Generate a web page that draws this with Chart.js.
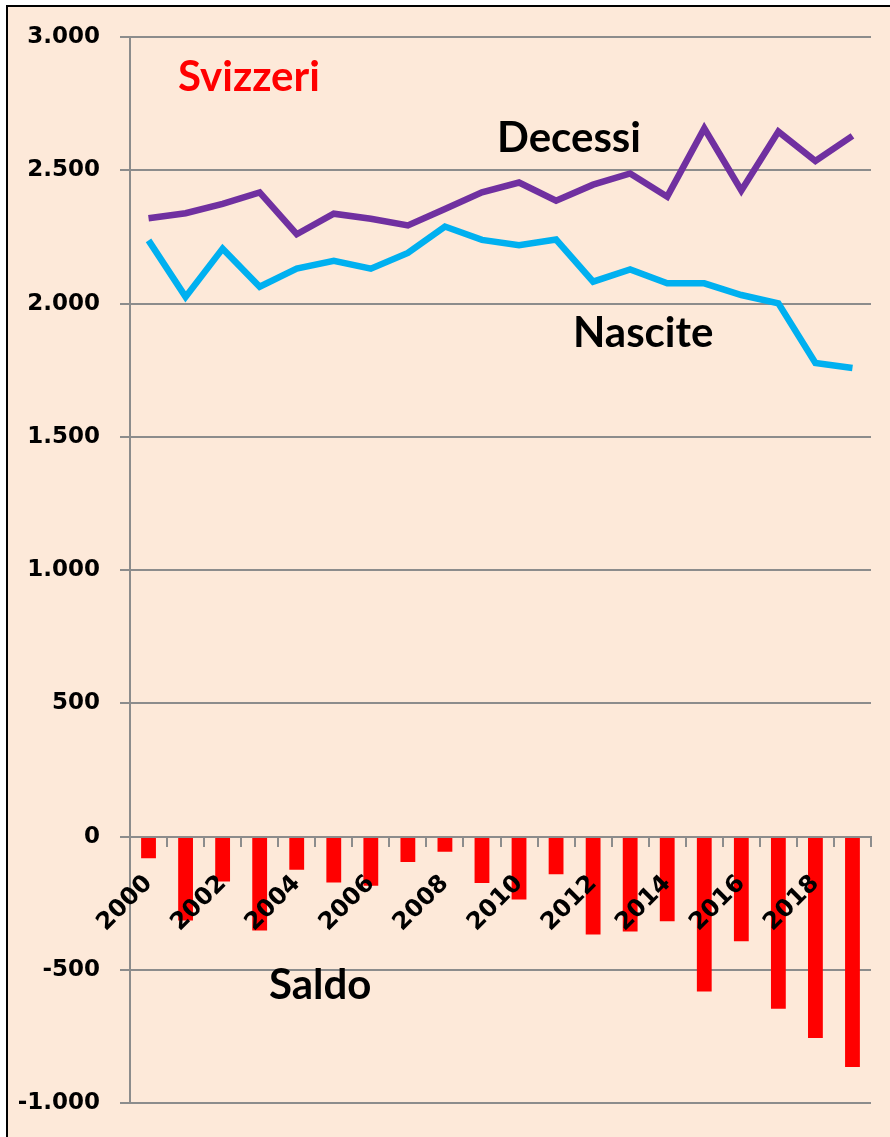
<!DOCTYPE html>
<html>
<head>
<meta charset="utf-8">
<script src="https://cdn.jsdelivr.net/npm/chart.js@4.4.0/dist/chart.umd.min.js"></script>
<style>
  html, body { margin: 0; padding: 0; background: #ffffff; }
  #wrap { position: relative; width: 890px; height: 1137px; }
</style>
</head>
<body>
<div id="wrap"><canvas id="myChart" width="890" height="1137"></canvas></div>
<script>
var years = ['2000','2001','2002','2003','2004','2005','2006','2007','2008','2009',
             '2010','2011','2012','2013','2014','2015','2016','2017','2018','2019'];
var decessi = [2320,2339,2374,2417,2260,2337,2318,2293,2355,2417,
               2454,2386,2446,2488,2401,2657,2424,2645,2535,2629];
var nascite = [2237,2025,2206,2063,2131,2160,2131,2190,2289,2239,
               2219,2240,2082,2128,2076,2076,2032,2001,1777,1758];
var saldo = [-81,-315,-168,-352,-124,-172,-184,-95,-57,-174,
             -236,-141,-367,-356,-317,-581,-392,-646,-755,-864];
var yMin = -1000, yMax = 3000, yStep = 500;

function fmt(v){
  var s = Math.abs(v).toString().replace(/\B(?=(\d{3})+(?!\d))/g, '.');
  return (v < 0 ? '-' : '') + s;
}

// background, border and the text labels inside the plot
var decor = {
  id: 'decor',
  beforeDraw: function(chart){
    var c = chart.ctx;
    c.save();
    c.fillStyle = '#FDE9D9';
    c.fillRect(7, 6, 890, 1137);
    c.fillStyle = '#000';
    c.fillRect(6, 5, 2, 1137);
    c.fillRect(6, 5, 890, 2);
    c.restore();
  },
  afterDraw: function(chart){
    var c = chart.ctx;
    c.save();
    c.font = 'bold 42px Lato';
    c.textBaseline = 'alphabetic';
    c.textAlign = 'left';
    c.fillStyle = '#FF0000';
    c.fillText('Svizzeri', 178, 91);
    c.fillStyle = '#000';
    c.fillText('Decessi', 497, 152);
    c.fillText('Nascite', 573, 347);
    c.fillText('Saldo', 269, 999);
    c.restore();
  }
};

var ctx = document.getElementById('myChart').getContext('2d');
var myChart = new Chart(ctx, {
  type: 'bar',
  data: {
    labels: years,
    datasets: [
      {
        type: 'line',
        label: 'Decessi',
        data: decessi,
        borderColor: '#7030A0',
        borderWidth: 6.5,
        pointRadius: 0,
        tension: 0,
        fill: false,
        order: 1
      },
      {
        type: 'line',
        label: 'Nascite',
        data: nascite,
        borderColor: '#00B0F0',
        borderWidth: 6.5,
        pointRadius: 0,
        tension: 0,
        fill: false,
        order: 2
      },
      {
        label: 'Saldo',
        data: saldo,
        backgroundColor: '#FF0000',
        categoryPercentage: 1,
        barPercentage: 0.4,
        order: 3
      }
    ]
  },
  options: {
    responsive: false,
    animation: false,
    layout: { padding: { left: 0, right: 19, top: 37, bottom: 26 } },
    plugins: {
      legend: { display: false },
      tooltip: { enabled: false }
    },
    scales: {
      x: {
        position: { y: 0 },
        offset: true,
        afterFit: function(s){ s.paddingLeft = 0; s.paddingRight = 0; },
        grid: {
          offset: true,
          drawOnChartArea: false,
          drawTicks: true,
          tickLength: 9,
          color: '#8C8C8C',
          lineWidth: 2
        },
        border: { display: true, color: '#8C8C8C', width: 2, z: 1 },
        ticks: {
          z: 1,
          autoSkip: false,
          maxRotation: 45,
          minRotation: 45,
          padding: 24,
          color: '#000',
          font: { family: 'DejaVu Sans', weight: 'bold', size: 24 },
          callback: function(val, i){ return i % 2 === 0 ? years[i] : ''; }
        }
      },
      y: {
        min: yMin,
        max: yMax,
        afterFit: function(scale){ scale.width = 130; },
        grid: {
          color: '#8C8C8C',
          lineWidth: 2,
          tickLength: 10
        },
        border: { display: true, color: '#8C8C8C', width: 2 },
        ticks: {
          stepSize: yStep,
          padding: 20,
          color: '#000',
          font: { family: 'DejaVu Sans', weight: 'bold', size: 23 },
          callback: function(v){ return fmt(v); }
        }
      }
    }
  },
  plugins: [decor]
});
</script>
</body>
</html>
